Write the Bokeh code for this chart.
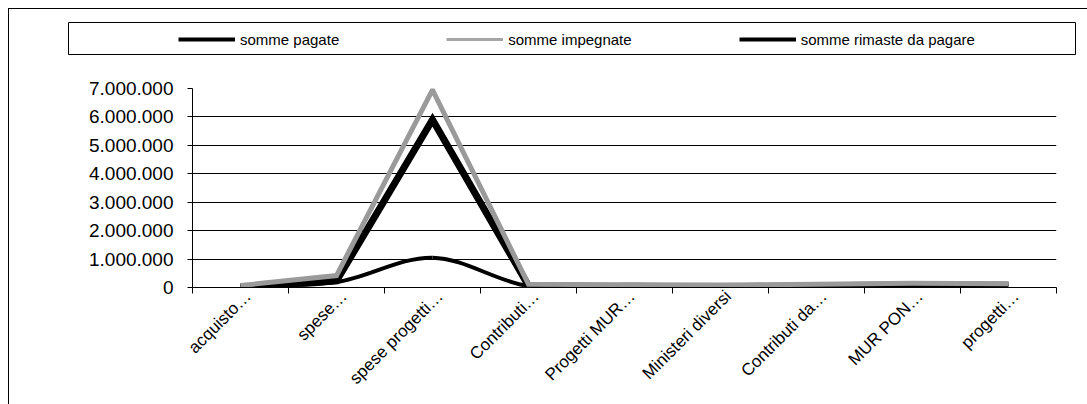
import math
from bokeh.plotting import figure
from bokeh.layouts import column, row
from bokeh.models import (ColumnDataSource, FixedTicker, Legend, LegendItem, Range1d)
from bokeh.embed import file_html
from bokeh.resources import INLINE

# ---- data ----
categories = ["acquisto\u2026", "spese\u2026", "spese progetti\u2026", "Contributi\u2026",
              "Progetti MUR\u2026", "Ministeri diversi", "Contributi da\u2026",
              "MUR PON\u2026", "progetti\u2026"]
somme_pagate = [50000, 190000, 1050000, 50000, 100000, 80000, 110000, 140000, 130000]
somme_impegnate = [70000, 420000, 6950000, 110000, 100000, 90000, 110000, 150000, 130000]
somme_rimaste = [20000, 230000, 5900000, 60000, 0, 10000, 0, 10000, 0]
y_tick_values = [0, 1000000, 2000000, 3000000, 4000000, 5000000, 6000000, 7000000]
y_tick_labels = ["0", "1.000.000", "2.000.000", "3.000.000", "4.000.000",
                 "5.000.000", "6.000.000", "7.000.000"]
series_names = ["somme pagate", "somme impegnate", "somme rimaste da pagare"]

n = len(categories)
xs = [i + 0.5 for i in range(n)]
label_pos = [x + 0.08 for x in xs]

W = 1078
H_LEG = 46
H_MAIN = 395 - H_LEG

PAGATE_COLOR, IMPEGNATE_COLOR, RIMASTE_COLOR = "black", "#9a9a9a", "black"

# ---------------- legend strip (its frame is the legend box) ----------------
pl = figure(width=W, height=H_LEG, output_backend="svg", toolbar_location=None,
            x_range=Range1d(0, 1), y_range=Range1d(0, 1),
            x_axis_location=None, y_axis_location=None,
            min_border_left=59, min_border_right=12, min_border_top=13,
            min_border_bottom=0)
pl.outline_line_color = "black"
pl.outline_line_width = 1
pl.xgrid.visible = False
pl.ygrid.visible = False
# legend proxies (zero-length, never visible in the strip)
lp = pl.line(x=[0, 0], y=[0, 0], line_color=PAGATE_COLOR, line_width=4)
li = pl.line(x=[0, 0], y=[0, 0], line_color="#a6a6a6", line_width=3)
lr = pl.line(x=[0, 0], y=[0, 0], line_color=RIMASTE_COLOR, line_width=4)
legend = Legend(items=[LegendItem(label=series_names[0], renderers=[lp]),
                       LegendItem(label=series_names[1], renderers=[li]),
                       LegendItem(label=series_names[2], renderers=[lr])],
                orientation="horizontal", location=(110, 6),
                glyph_width=57, glyph_height=20, label_standoff=5, spacing=107,
                padding=0, margin=0, border_line_color=None, background_fill_alpha=0,
                label_text_font="Liberation Sans", label_text_font_size="15px",
                label_text_color="black")
pl.add_layout(legend)

# ---------------- main chart ----------------
p = figure(width=W, height=H_MAIN, output_backend="svg", toolbar_location=None,
           x_range=Range1d(0, n), y_range=Range1d(0, 7000000),
           min_border_left=183, min_border_right=31, min_border_top=33,
           min_border_bottom=117)
p.outline_line_color = None
p.background_fill_color = "white"
p.border_fill_color = "white"

p.xaxis.ticker = FixedTicker(ticks=label_pos, minor_ticks=list(range(n + 1)))
p.xaxis.major_label_overrides = {x: c for x, c in zip(label_pos, categories)}
p.xaxis.major_tick_in = 0
p.xaxis.major_tick_out = 0
p.xaxis.minor_tick_in = 0
p.xaxis.minor_tick_out = 6
p.xaxis.minor_tick_line_color = "black"
p.xaxis.major_label_orientation = math.pi / 4
p.xaxis.major_label_standoff = 0
p.xaxis.major_label_text_font_size = "17px"

p.yaxis.ticker = FixedTicker(ticks=y_tick_values)
p.yaxis.major_label_overrides = {v: t for v, t in zip(y_tick_values, y_tick_labels)}
p.yaxis.major_tick_in = 0
p.yaxis.major_tick_out = 5
p.yaxis.minor_tick_line_color = None
p.yaxis.major_label_standoff = 14
p.yaxis.major_label_text_font_size = "19px"

for ax in p.axis:
    ax.axis_line_color = "black"
    ax.axis_line_width = 1
    ax.major_tick_line_color = "black"
    ax.major_label_text_font = "Liberation Sans"
    ax.major_label_text_color = "black"
    ax.major_label_text_font_style = "normal"

p.xgrid.grid_line_color = None
p.ygrid.grid_line_color = "black"
p.ygrid.grid_line_width = 1


# smoothed "somme pagate" drawn as bezier segments (Excel-like smoothing)
def smooth_segments(x, y, t=1.0 / 6):
    m = len(x)
    seg = dict(x0=[], y0=[], x1=[], y1=[], cx0=[], cy0=[], cx1=[], cy1=[])
    for i in range(m - 1):
        xa, ya, xb, yb = x[i], y[i], x[i + 1], y[i + 1]
        xp, yp = (x[i - 1], y[i - 1]) if i > 0 else (xa, ya)
        xn, yn = (x[i + 2], y[i + 2]) if i + 2 < m else (xb, yb)
        seg["x0"].append(xa); seg["y0"].append(ya)
        seg["x1"].append(xb); seg["y1"].append(yb)
        seg["cx0"].append(xa + (xb - xp) * t); seg["cy0"].append(ya + (yb - yp) * t)
        seg["cx1"].append(xb - (xn - xa) * t); seg["cy1"].append(yb - (yn - ya) * t)
    return seg


p.bezier(x0="x0", y0="y0", x1="x1", y1="y1", cx0="cx0", cy0="cy0", cx1="cx1", cy1="cy1",
         source=ColumnDataSource(smooth_segments(xs, somme_pagate)),
         line_color=PAGATE_COLOR, line_width=4)
p.line(xs, somme_rimaste, line_color=RIMASTE_COLOR, line_width=7, line_join="miter")
p.line(xs, somme_impegnate, line_color=IMPEGNATE_COLOR, line_width=5, line_join="miter")

layout = column(row(pl), p, spacing=0,
                styles={"margin-left": "8px", "margin-top": "8px",
                        "border-left": "1px solid black", "border-top": "1px solid black"})

open("out.html", "w").write(file_html(layout, INLINE))
